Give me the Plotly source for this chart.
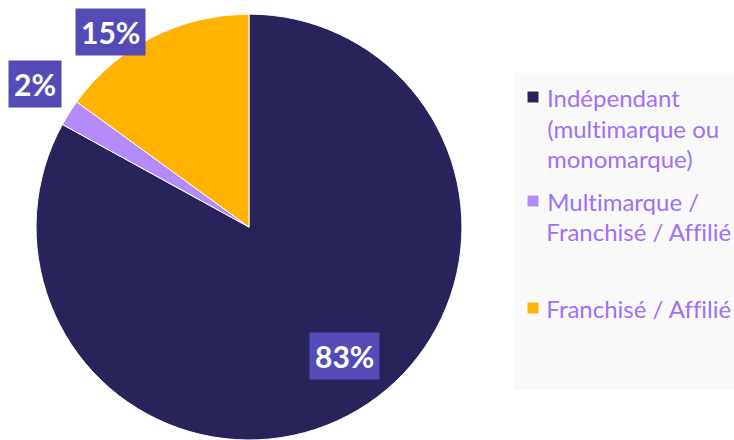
import plotly.graph_objects as go

categories = ["Indépendant (multimarque ou monomarque)",
              "Multimarque / Franchisé / Affilié",
              "Franchisé / Affilié"]
values = [83, 2, 15]
colors = ["#29235C", "#B38BFA", "#FFB300"]
legend_lines = [["Indépendant", "(multimarque ou", "monomarque)"],
                ["Multimarque /", "Franchisé / Affilié"],
                ["Franchisé / Affilié"]]
label_text = [f"{v}%" for v in values]

W, H = 734, 440
fig = go.Figure()
fig.add_trace(go.Pie(
    labels=categories, values=values, sort=False, direction="clockwise",
    rotation=0, marker=dict(colors=colors, line=dict(color="white", width=1)),
    textinfo="none", hoverinfo="label+percent", showlegend=False,
    domain=dict(x=[35 / W, 463 / W], y=[0, 0.968]),
))

# data labels (positions in pixels)
label_pos = [(344, 356), (35, 84), (110, 32)]
ann = []
for (px, py), t in zip(label_pos, label_text):
    ann.append(dict(x=px / W, y=1 - py / H, xref="paper", yref="paper",
                    text=f"<b>{t}</b>", showarrow=False,
                    font=dict(family="Lato", size=30, color="white"),
                    bgcolor="#554BB7", borderpad=5,
                    xanchor="center", yanchor="middle"))

shapes = [dict(type="rect", xref="paper", yref="paper",
               x0=514 / W, x1=1.0, y0=1 - 390 / H, y1=1 - 73 / H,
               fillcolor="#F9F9F9", line=dict(width=0), layer="below")]

line_y = [[97, 128, 158], [201, 232], [308]]
for i, lines in enumerate(legend_lines):
    my = line_y[i][0]
    shapes.append(dict(type="rect", xref="paper", yref="paper",
                       x0=527 / W, x1=539 / W, y0=1 - (my + 6) / H, y1=1 - (my - 6) / H,
                       fillcolor=colors[i], line=dict(color="white", width=1)))
    for ln, ly in zip(lines, line_y[i]):
        ann.append(dict(x=545 / W, y=1 - ly / H, xref="paper", yref="paper",
                        text=ln, showarrow=False, xanchor="left", yanchor="middle",
                        font=dict(family="Lato", size=24, color="#A070F5")))

fig.update_layout(width=W, height=H, margin=dict(l=0, r=0, t=0, b=0),
                  paper_bgcolor="white", plot_bgcolor="white",
                  annotations=ann, shapes=shapes)
post = ("document.body.style.margin='0px';"
        "var s=document.createElement('style');"
        "s.textContent='svg text{font-variant-ligatures:none !important;font-feature-settings:\"liga\" 0,\"clig\" 0 !important;}';"
        "document.head.appendChild(s);")
fig.write_html("out.html", post_script=post, config={"displayModeBar": False})
